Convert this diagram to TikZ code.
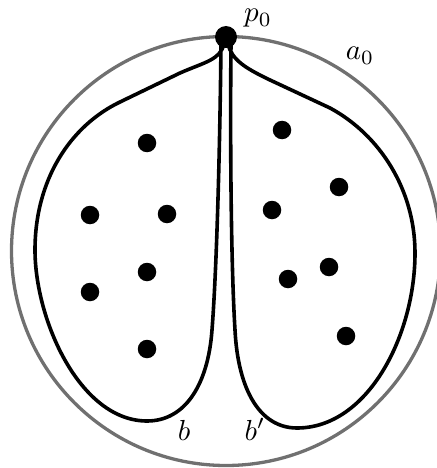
\documentclass[tikz,border=0pt]{standalone}
\begin{document}
\begin{tikzpicture}[x=1pt,y=-1pt,
  loopline/.style={line width=3.6pt,black,line join=round},
  outer/.style={line width=3.3pt,color={rgb,255:red,112;green,112;blue,112}},
  pt/.style={circle,fill=black,inner sep=0pt,minimum size=18.5pt},
  bigpt/.style={circle,fill=black,inner sep=0pt,minimum size=22pt},
  lab/.style={inner sep=0pt,anchor=base,scale=2.9}]
\useasboundingbox (0,0) rectangle (436,468);
\draw[outer] (226,251) circle (214.5);
\coordinate (lstart) at (224,44);
\coordinate (lend) at (221,44);
\coordinate (rstart) at (228,44);
\coordinate (rend) at (231,44);
% left loop
\draw[loopline] (lstart) .. controls (220,60) and (205,62) .. (180,73)
  -- (120,102) .. controls (70,126) and (35,180) .. (35,250)
  .. controls (35,320) and (80,421) .. (147,421)
  .. controls (185,421) and (208,385) .. (212,330)
  .. controls (217,265) and (220,140) .. (lend);
% right loop
\draw[loopline] (rstart) .. controls (232,60) and (245,68) .. (270,80)
  -- (330,108) .. controls (380,135) and (415,190) .. (415,253)
  .. controls (415,335) and (368,428) .. (297,428)
  .. controls (260,428) and (238,390) .. (235,330)
  .. controls (231,265) and (230,140) .. (rend);
\node[bigpt] (p0) at (226,37) {};
\node[lab] (lp0) at (258,22) {$p_0$};
\node[lab] (la0) at (360,60) {$a_0$};
\node[lab] (lb) at (184,440) {$b$};
\node[lab] (lbp) at (255,440) {$b'$};
% left dots
\node[pt] (l1) at (147,143) {};
\node[pt] (l2) at (90,215) {};
\node[pt] (l3) at (167,214) {};
\node[pt] (l4) at (147,272) {};
\node[pt] (l5) at (90,292) {};
\node[pt] (l6) at (147,349) {};
% right dots
\node[pt] (r1) at (282,130) {};
\node[pt] (r2) at (339,187) {};
\node[pt] (r3) at (272,210) {};
\node[pt] (r4) at (288,279) {};
\node[pt] (r5) at (329,267) {};
\node[pt] (r6) at (346,336) {};
\end{tikzpicture}
\end{document}
